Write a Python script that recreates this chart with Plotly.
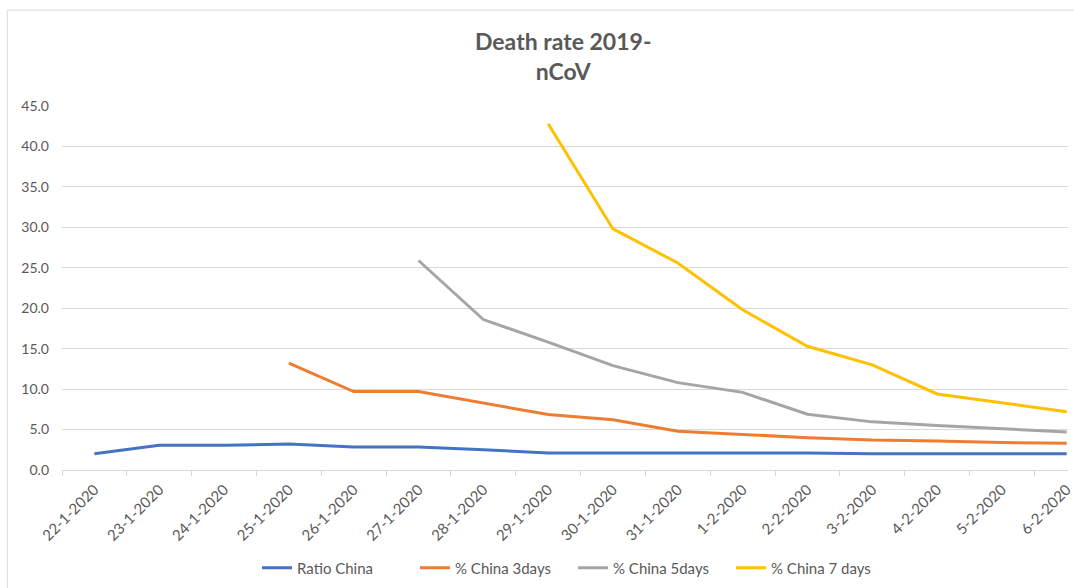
import plotly.graph_objects as go

dates = ["22-1-2020", "23-1-2020", "24-1-2020", "25-1-2020", "26-1-2020", "27-1-2020",
         "28-1-2020", "29-1-2020", "30-1-2020", "31-1-2020", "1-2-2020", "2-2-2020",
         "3-2-2020", "4-2-2020", "5-2-2020", "6-2-2020"]

ratio_china = [2.0, 3.05, 3.05, 3.2, 2.85, 2.85, 2.5, 2.1, 2.1, 2.1, 2.1, 2.1, 2.0, 2.0, 2.0, 2.0]
china_3days = [None, None, None, 13.2, 9.7, 9.7, 8.3, 6.85, 6.2, 4.8, 4.4, 4.0, 3.7, 3.6, 3.4, 3.3]
china_5days = [None, None, None, None, None, 25.9, 18.6, 15.8, 12.9, 10.8, 9.6, 6.9, 5.95, 5.5, 5.1, 4.7]
china_7days = [None, None, None, None, None, None, None, 42.8, 29.8, 25.6, 19.8, 15.3, 13.0, 9.4, 8.3, 7.2]

series = [
    ("Ratio China", ratio_china, "#4472C4"),
    ("% China 3days", china_3days, "#ED7D31"),
    ("% China 5days", china_5days, "#A5A5A5"),
    ("% China 7 days", china_7days, "#FFC000"),
]

FONT = "Lato"
GREY_TXT = "#595959"
GRID = "#D9D9D9"

fig = go.Figure()
for name, vals, color in series:
    fig.add_trace(go.Scatter(x=dates, y=vals, name=name, mode="lines",
                             line=dict(color=color, width=3), connectgaps=False))

W, H = 1074, 588
ml, mt, mb = 62, 106, 117.5
plot_w = W - ml
plot_h = H - mt - mb
y_bottom = H - mb  # pixel row of y=0


def py(pixel_y):
    return (y_bottom - pixel_y) / plot_h


def px(pixel_x):
    return (pixel_x - ml) / plot_w


fig.update_layout(
    width=W, height=H,
    margin=dict(l=ml, r=0, t=mt, b=mb),
    paper_bgcolor="white", plot_bgcolor="white",
    font=dict(family=FONT, color=GREY_TXT, size=14),
    showlegend=True,
    legend=dict(orientation="h", xref="container", yref="container",
                x=573 / W, xanchor="center", y=20 / H, yanchor="middle",
                entrywidth=113, entrywidthmode="pixels",
                font=dict(family=FONT, size=15, color=GREY_TXT),
                bgcolor="rgba(0,0,0,0)"),
    xaxis=dict(type="category", range=[-0.5, 15.02], showgrid=False,
               showline=True, linecolor=GRID, linewidth=1,
               ticks="outside", tickson="boundaries", ticklen=5, tickcolor=GRID,
               tickangle=-45, tickfont=dict(family=FONT, size=15, color=GREY_TXT),
               ticklabelstandoff=4,
               zeroline=False, fixedrange=True),
    yaxis=dict(range=[0, 45], dtick=5, tickformat=".1f", showgrid=True,
               gridcolor=GRID, gridwidth=1, showline=False, zeroline=False,
               ticks="", ticklabelstandoff=12,
               tickfont=dict(family=FONT, size=14, color=GREY_TXT), fixedrange=True),
)

# title
fig.add_annotation(text="<b>Death rate 2019-<br>nCoV</b>", xref="paper", yref="paper",
                   x=px(566), y=py(56), xanchor="center", yanchor="middle",
                   showarrow=False, align="center",
                   font=dict(family=FONT, size=23, color=GREY_TXT))

# chart-area frame (partly cut off at right and bottom)
fig.add_shape(type="rect", xref="paper", yref="paper",
              x0=px(7), x1=1.2, y0=-0.5, y1=py(10),
              line=dict(color=GRID, width=1), fillcolor="rgba(0,0,0,0)", layer="below")

fig.write_html("out.html")
